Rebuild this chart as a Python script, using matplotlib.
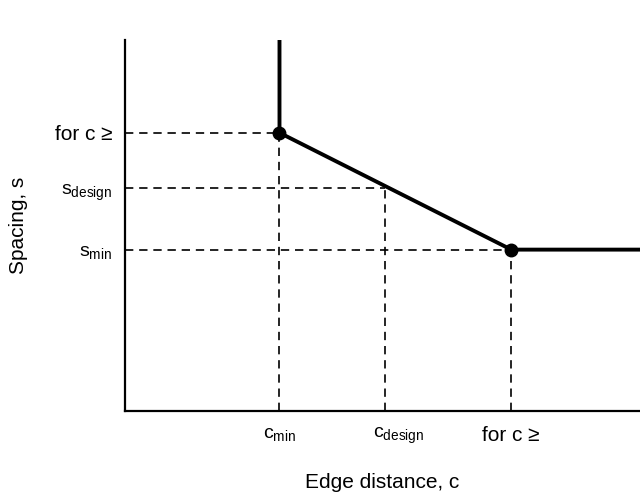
import matplotlib
matplotlib.use('Agg')
import matplotlib.pyplot as plt
from matplotlib.transforms import ScaledTranslation

plt.rcParams['font.family'] = ['Liberation Sans', 'DejaVu Sans']
plt.rcParams['mathtext.fontset'] = 'custom'
plt.rcParams['mathtext.rm'] = 'Liberation Sans'
plt.rcParams['mathtext.it'] = 'Liberation Sans'

# Data (schematic units)
c_vals = [3.0, 5.05, 7.5]          # c_min, c_design, c for s_min
s_vals = [7.5, 6.0, 4.35]          # s at c_min, s_design, s_min
x_labels = [r'c$_{\mathrm{min}}$', r'c$_{\mathrm{design}}$', 'for c ≥']
y_labels = ['for c ≥', r's$_{\mathrm{design}}$', r's$_{\mathrm{min}}$']

X_MAX = 10
Y_MAX = 10

fig = plt.figure(figsize=(6.4, 4.94), dpi=100)
ax = fig.add_axes([0.1953, 0.168, 0.8047, 0.751])

# envelope line
line_x = [c_vals[0], c_vals[0], c_vals[2], X_MAX]
line_y = [Y_MAX, s_vals[0], s_vals[2], s_vals[2]]
ax.plot(line_x, line_y, color='black', lw=2.8, solid_capstyle='butt', zorder=3)
ax.plot([c_vals[0], c_vals[2]], [s_vals[0], s_vals[2]], 'o', color='black', ms=9, zorder=4)

# guide lines
dash = dict(color='black', lw=1.2, ls=(0, (5, 3.5)))
for c, s in zip(c_vals, s_vals):
    ax.plot([0, c], [s, s], **dash)
    ax.plot([c, c], [0, s], **dash)

ax.set_xlim(0, X_MAX)
ax.set_ylim(0, Y_MAX)
ax.spines['top'].set_visible(False)
ax.spines['right'].set_visible(False)
ax.spines['left'].set_linewidth(1.6)
ax.spines['bottom'].set_linewidth(1.6)

ax.set_xticks(c_vals)
ax.set_xticklabels(x_labels)
ax.set_yticks(s_vals)
ax.set_yticklabels(y_labels)
for lab in ax.get_xticklabels() + ax.get_yticklabels():
    lab.set_fontsize(15 if lab.get_text().startswith('for') else 14)
ax.tick_params(axis='x', length=0, pad=11)
ax.tick_params(axis='y', length=0, pad=9)

# c_design label sits a little right of its guide line
lab = ax.get_xticklabels()[1]
lab.set_transform(lab.get_transform() + ScaledTranslation(14 / 100, 0, fig.dpi_scale_trans))

ax.set_xlabel('Edge distance, c', fontsize=15, labelpad=19)
ax.set_ylabel('Spacing, s', fontsize=15, labelpad=19)

plt.savefig('out.png', dpi=100)
